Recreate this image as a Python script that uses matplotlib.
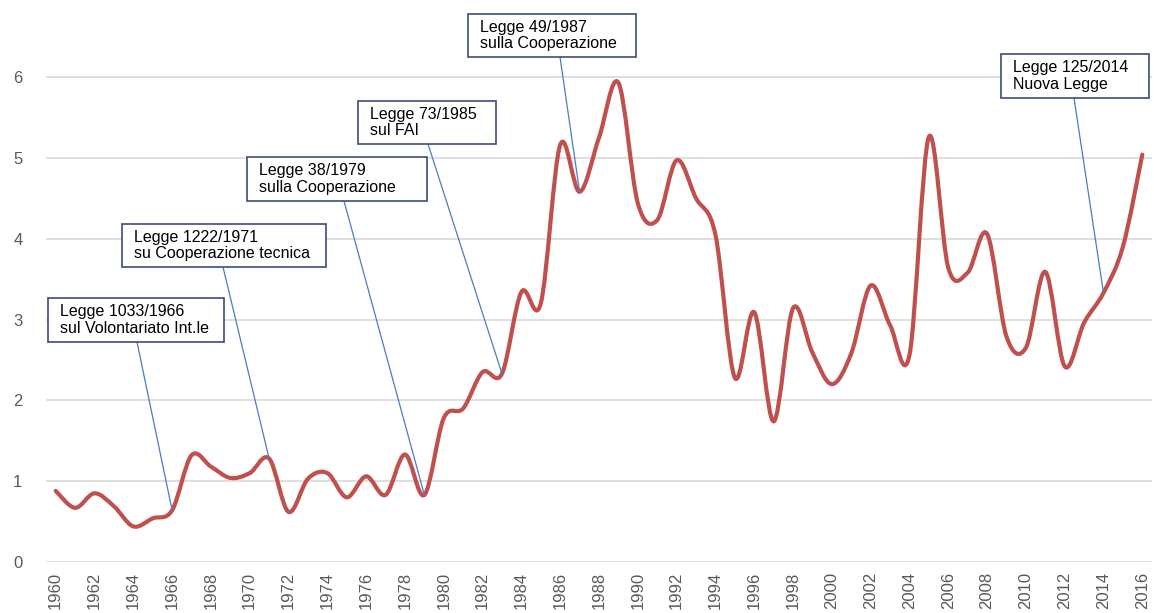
"""Andamento annuale con le principali leggi sulla cooperazione."""

import matplotlib

matplotlib.use("Agg")
import matplotlib.pyplot as plt
import numpy as np
from matplotlib.patches import PathPatch, Rectangle
from matplotlib.path import Path

plt.rcParams["font.family"] = ["Liberation Sans", "DejaVu Sans"]

years = list(range(1960, 2017))
values = [
    0.88, 0.67, 0.85, 0.69, 0.44, 0.54, 0.64, 1.32, 1.18, 1.04,  # 1960-69
    1.10, 1.28, 0.62, 1.03, 1.10, 0.80, 1.06, 0.83, 1.33, 0.83,  # 1970-79
    1.78, 1.90, 2.35, 2.33, 3.34, 3.20, 5.16, 4.58, 5.25, 5.93,  # 1980-89
    4.44, 4.23, 4.97, 4.50, 4.05, 2.28, 3.09, 1.74, 3.14, 2.59,  # 1990-99
    2.20, 2.58, 3.42, 2.93, 2.56, 5.26, 3.64, 3.58, 4.06, 2.79,  # 2000-09
    2.65, 3.59, 2.42, 2.96, 3.33, 3.90, 5.04,                    # 2010-16
]
tick_years = list(range(1960, 2017, 2))
y_ticks = [0, 1, 2, 3, 4, 5, 6]

law_labels = [
    "Legge 1033/1966\nsul Volontariato Int.le",
    "Legge 1222/1971\nsu Cooperazione tecnica",
    "Legge 38/1979\nsulla Cooperazione",
    "Legge 73/1985\nsul FAI",
    "Legge 49/1987\nsulla Cooperazione",
    "Legge 125/2014\nNuova Legge",
]
law_target_years = [1966, 1971, 1979, 1983, 1987, 2014]

# box layout in image pixels: left, top, right, bottom, leader start x
BOXES = [
    (48, 298, 224, 342, 137),
    (122, 224, 326, 267, 223),
    (247, 157, 427, 201, 344),
    (358, 101, 496, 144, 428),
    (468, 14, 636, 57, 560),
    (1001, 54, 1149, 98, 1074),
]

W, H = 1154, 613
LINE_RED = "#C0504D"
GRID = "#D9D9D9"
TEXT_GREY = "#595959"
BOX_EDGE = "#3E4C7A"
LEADER = "#4A7CC4"


def smooth_path(xs, ys):
    """Excel-style smoothed line as cubic Bezier segments."""
    xs = np.asarray(xs, dtype=float)
    ys = np.asarray(ys, dtype=float)
    n = len(xs)
    verts = [(xs[0], ys[0])]
    codes = [Path.MOVETO]
    for i in range(n - 1):
        i0 = max(i - 1, 0)
        i3 = min(i + 2, n - 1)
        c1 = (xs[i] + (xs[i + 1] - xs[i0]) / 6, ys[i] + (ys[i + 1] - ys[i0]) / 6)
        c2 = (xs[i + 1] - (xs[i3] - xs[i]) / 6, ys[i + 1] - (ys[i3] - ys[i]) / 6)
        verts += [c1, c2, (xs[i + 1], ys[i + 1])]
        codes += [Path.CURVE4] * 3
    return Path(verts, codes)


def px(x, y):
    """image pixel (top-left origin) -> figure fraction"""
    return x / W, (H - y) / H


fig = plt.figure(figsize=(W / 100, H / 100), dpi=100)
ax_left, ax_right, ax_bottom = 46, 1152, 562
ax = fig.add_axes([ax_left / W, (H - ax_bottom) / H, (ax_right - ax_left) / W, ax_bottom / H])

ax.set_xlim(1959.5, 2016.5)
ax.set_ylim(0, 6 + 77 / 80.8)

ax.add_patch(PathPatch(smooth_path(years, values), facecolor="none",
                       edgecolor=LINE_RED, linewidth=3.0, capstyle="round",
                       joinstyle="round", zorder=3))

ax.set_yticks(y_ticks)
ax.set_xticks(tick_years)
ax.set_xticklabels([str(y) for y in tick_years], rotation=90)
ax.tick_params(axis="both", length=0, labelsize=12, labelcolor=TEXT_GREY)
ax.tick_params(axis="y", pad=17)
ax.tick_params(axis="x", pad=7)
ax.grid(axis="y", color=GRID, linewidth=1.2)
ax.set_axisbelow(True)
for spine in ax.spines.values():
    spine.set_visible(False)

for label, year, (x0, y0, x1, y1, lx) in zip(law_labels, law_target_years, BOXES):
    target = (year, values[years.index(year)])
    ax.annotate("", xy=target, xycoords="data",
                xytext=px(lx, y1), textcoords="figure fraction",
                arrowprops=dict(arrowstyle="-", color=LEADER, lw=0.9,
                                shrinkA=0, shrinkB=0), zorder=4)
    fx0, fy0 = px(x0, y1)
    fx1, fy1 = px(x1, y0)
    fig.patches.append(Rectangle((fx0, fy0), fx1 - fx0, fy1 - fy0,
                                 transform=fig.transFigure, facecolor="white",
                                 edgecolor=BOX_EDGE, linewidth=1.2, zorder=5))
    tx, ty = px(x0 + 12, (y0 + y1) / 2)
    fig.text(tx, ty, label, ha="left", va="center", fontsize=11.5,
             linespacing=1.1, color="black", zorder=6)

fig.savefig("out.png", dpi=100)
